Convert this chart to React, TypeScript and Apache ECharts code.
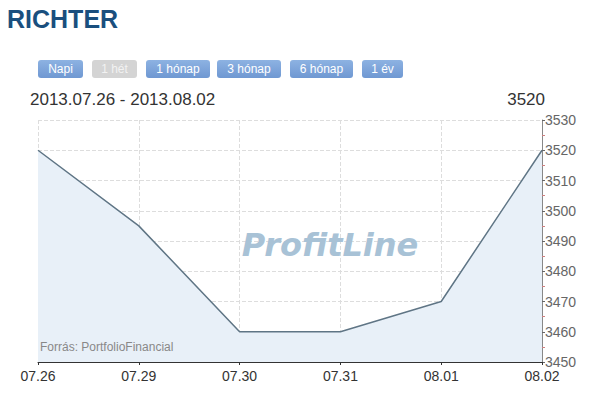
import React, { useEffect, useRef } from "react";
import * as echarts from "echarts";

const categories = ["07.26", "07.29", "07.30", "07.31", "08.01", "08.02"];
const prices = [3520, 3495, 3460, 3460, 3470, 3520];
const buttons = ["Napi", "1 hét", "1 hónap", "3 hónap", "6 hónap", "1 év"];
const buttonActive = [true, false, true, true, true, true];
const buttonX = [38, 92, 146, 217, 290, 362];
const buttonW = [45, 45, 64, 64, 63, 41];

export default function App() {
  const ref = useRef<HTMLDivElement>(null);
  useEffect(() => {
    document.body.style.margin = "0";
    const chart = echarts.init(ref.current!, null, { renderer: "svg" });
    const font = "Arial, 'Liberation Sans', sans-serif";
    const btnGraphics: any[] = [];
    buttons.forEach((b, i) => {
      btnGraphics.push({
        type: "rect",
        shape: { x: buttonX[i], y: 60, width: buttonW[i], height: 18, r: 3 },
        style: {
          fill: buttonActive[i]
            ? new echarts.graphic.LinearGradient(0, 0, 0, 1, [
                { offset: 0, color: "#8db2e2" },
                { offset: 1, color: "#6f98d2" },
              ])
            : "#d4d4d4",
        },
        z: 10,
      });
      btnGraphics.push({
        type: "text",
        x: buttonX[i] + buttonW[i] / 2,
        y: 69,
        style: {
          text: b,
          fill: buttonActive[i] ? "#ffffff" : "#f2f2f2",
          font: `12px ${font}`,
          align: "center",
          verticalAlign: "middle",
        },
        z: 11,
      });
    });
    chart.setOption({
      animation: false,
      backgroundColor: "#ffffff",
      grid: { left: 38, right: 58, top: 120, bottom: 38 },
      xAxis: {
        type: "category",
        data: categories,
        boundaryGap: false,
        axisLine: { lineStyle: { color: "#333333", width: 1 } },
        axisTick: { show: true, length: 3, lineStyle: { color: "#333333" } },
        axisLabel: { color: "#333333", fontSize: 14, fontFamily: font, margin: 7, lineHeight: 14 },
        splitLine: { show: true, lineStyle: { color: "#dddddd", type: "dashed" } },
      },
      yAxis: {
        type: "value",
        position: "right",
        min: 3450,
        max: 3530,
        interval: 10,
        axisLine: { show: true, lineStyle: { color: "#888888" } },
        axisTick: { show: true, length: 3, lineStyle: { color: "#666666" } },
        minorTick: { show: true, splitNumber: 2, length: 3, lineStyle: { color: "#d08080" } },
        axisLabel: {
          color: "#666666",
          fontSize: 14,
          lineHeight: 12,
          fontFamily: font,
          margin: 3,
          formatter: (v: number) => String(v),
        },
        splitLine: { show: true, lineStyle: { color: "#dddddd", type: "dashed" } },
      },
      series: [
        {
          type: "line",
          data: prices,
          symbol: "none",
          lineStyle: { color: "#5f7585", width: 1.5 },
          areaStyle: { color: "#e8f0f8", opacity: 1, origin: "start" },
        },
      ],
      graphic: [
        {
          type: "text",
          x: 7,
          y: 6,
          style: { text: "RICHTER", fill: "#1a4f7e", font: `bold 25px ${font}` },
        },
        ...btnGraphics,
        {
          type: "text",
          x: 30,
          y: 91,
          style: { text: "2013.07.26 - 2013.08.02", fill: "#333333", font: `17px ${font}` },
        },
        {
          type: "text",
          x: 545,
          y: 91,
          style: { text: "3520", fill: "#333333", font: `17px ${font}`, align: "right" },
        },
        {
          type: "text",
          x: 330,
          y: 245,
          style: {
            text: "ProfitLine",
            fill: "#a8c2d6",
            font: `italic bold 32px 'DejaVu Sans', sans-serif`,
            align: "center",
            verticalAlign: "middle",
          },
          z: 5,
        },
        {
          type: "text",
          x: 40,
          y: 341,
          style: { text: "Forrás: PortfolioFinancial", fill: "#888888", font: `12px ${font}` },
          z: 5,
        },
      ],
    });
    return () => chart.dispose();
  }, []);
  return <div ref={ref} style={{ width: 600, height: 400 }} />;
}
